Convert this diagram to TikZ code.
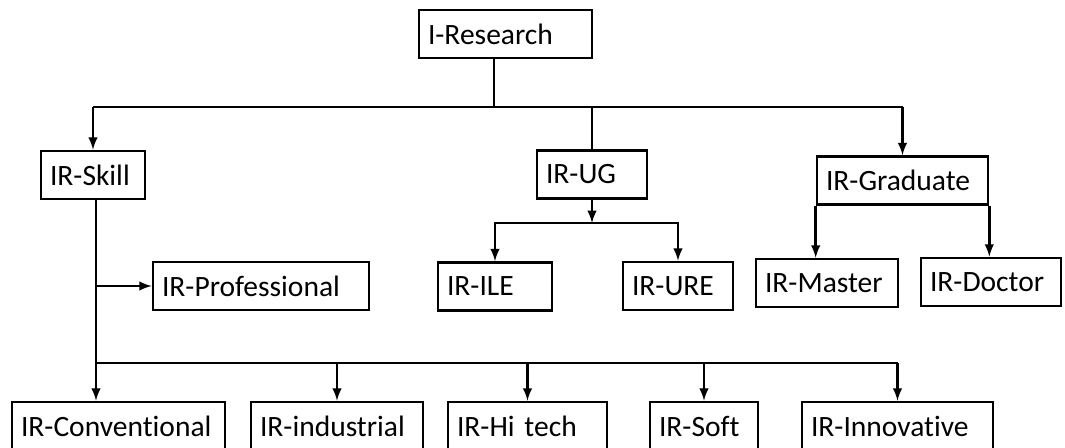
\documentclass[tikz,border=0pt]{standalone}
\usepackage{fontspec}
\setmainfont{Carlito}[Ligatures=NoCommon]
\usetikzlibrary{arrows}

\begin{document}
\begin{tikzpicture}[x=0.02cm,y=-0.02cm,
    box/.style={draw,line width=1.5pt,minimum height=0.96cm,inner xsep=0.18cm,
      inner ysep=2pt,align=left,font=\fontsize{16.8}{20}\selectfont},
    arr/.style={-latex,line width=1.4pt},
    ln/.style={line width=1.4pt}]
    \useasboundingbox (0,0) rectangle (1065,447);
    % top levels
    \node[box,text width=3.10cm] (research) at (505.5,34) {I-Research};
    \node[box,text width=1.72cm] (skill) at (93,175) {IR-Skill};
    \node[box,text width=1.84cm] (ug) at (592,174.5) {IR-UG};
    \node[box,text width=3.06cm] (grad) at (902.5,180.5) {IR-Graduate};
    \node[box,text width=3.96cm] (prof) at (261,286) {IR-Professional};
    \node[box,text width=1.92cm] (ile) at (495,286.5) {IR-ILE};
    \node[box,text width=1.84cm] (ure) at (678,286) {IR-URE};
    \node[box,text width=2.48cm] (master) at (827,283) {IR-Master};
    \node[box,text width=2.44cm] (doctor) at (991,282) {IR-Doctor};
    % bottom row
    \node[box,text width=3.90cm] (conv) at (118.5,426) {IR-Conventional};
    \node[box,text width=3.08cm] (ind) at (337,426) {IR-industrial};
    \node[box,text width=2.82cm] (hitech) at (527.5,426) {IR-Hi tech};
    \node[box,text width=1.80cm] (soft) at (704,426) {IR-Soft};
    \node[box,text width=3.46cm] (innov) at (897.5,426) {IR-Innovative};
    \coordinate (topbar) at (494,107);
    \coordinate (ugbar) at (592,223);
    \coordinate (lowbar) at (96,363);
    % connectors
    \draw[ln] (research.south -| topbar) -- (topbar);
    \draw[ln] (skill.north |- topbar) -- (grad.north |- topbar);
    \draw[arr] (skill.north |- topbar) -- (skill.north);
    \draw[ln] (ug.north |- topbar) -- (ug.north);
    \draw[arr] (grad.north |- topbar) -- (grad.north);
    \draw[arr] (ug.south) -- (ugbar);
    \draw[arr] (ugbar) -| (ile.north);
    \draw[arr] (ugbar) -| (ure.north);
    \draw[arr] (grad.south west) -- (grad.south west |- master.north);
    \draw[arr] (grad.south east) -- (grad.south east |- doctor.north);
    \draw[arr] (skill.south -| lowbar) -- (lowbar |- conv.north);
    \draw[arr] (lowbar |- prof.west) -- (prof.west);
    \draw[ln] (lowbar) -- (innov.north |- lowbar);
    \foreach \n in {ind,hitech,soft,innov}
      \draw[arr] (\n.north |- lowbar) -- (\n.north);
\end{tikzpicture}
\end{document}
